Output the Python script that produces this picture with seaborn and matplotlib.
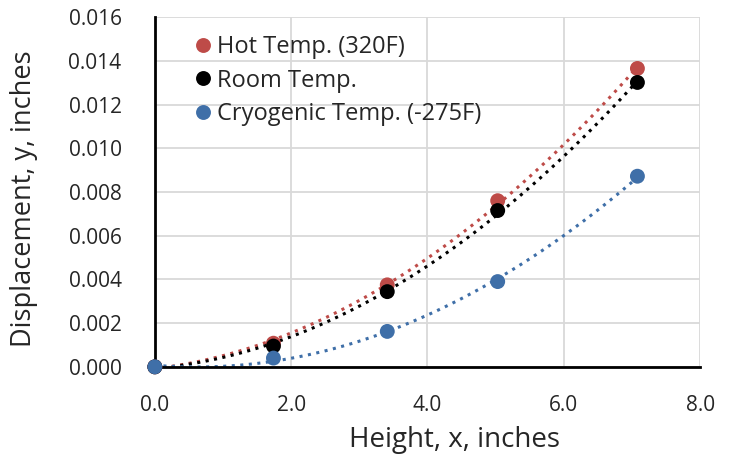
import numpy as np
import pandas as pd
import seaborn as sns
import matplotlib.pyplot as plt

# data
height = [0.0, 1.74, 3.41, 5.03, 7.08]
hot = [0.0, 0.00108, 0.00375, 0.00760, 0.01365]
room = [0.0, 0.00095, 0.00344, 0.00715, 0.01301]
cryo = [0.0, 0.00040, 0.00162, 0.00390, 0.00872]

series = ['Hot Temp. (320F)', 'Room Temp.', 'Cryogenic Temp. (-275F)']
colors = ['#BE4B48', '#000000', '#3F6FA8']

df = pd.DataFrame({
    'x': height * 3,
    'y': hot + room + cryo,
    'series': [s for s in series for _ in height],
})

sns.set_style('white')
plt.rcParams['font.family'] = ['Open Sans', 'DejaVu Sans']

fig = plt.figure(figsize=(7.48, 4.62), dpi=100)
ax = fig.add_axes([0.207, 0.206, 0.729, 0.757])

# dotted quadratic trendlines
for name, col in zip(series, colors):
    sub = df[df['series'] == name]
    sns.regplot(data=sub, x='x', y='y', order=2, ci=None, scatter=False,
                truncate=True, ax=ax,
                line_kws={'color': col, 'linestyle': (0, (1, 1.8)), 'linewidth': 2.2})

sns.scatterplot(data=df, x='x', y='y', hue='series', palette=colors,
                s=115, edgecolor='none', ax=ax, zorder=5, clip_on=False)

ax.set_xlim(0, 8)
ax.set_ylim(0, 0.016)
ax.set_xticks(np.arange(0, 8.1, 2))
ax.set_xticklabels([f'{v:.1f}' for v in np.arange(0, 8.1, 2)])
ax.set_yticks(np.arange(0, 0.0161, 0.002))
ax.set_yticklabels([f'{v:.3f}' for v in np.arange(0, 0.0161, 0.002)])
ax.tick_params(axis='y', labelsize=15, length=0, pad=24)
ax.tick_params(axis='x', labelsize=15, length=0, pad=20)
ax.grid(True, color='#D9D9D9', linewidth=1.3)
ax.set_axisbelow(True)

for side in ['top', 'right']:
    ax.spines[side].set_visible(False)
for side in ['left', 'bottom']:
    ax.spines[side].set_color('black')
    ax.spines[side].set_linewidth(2)

ax.set_xlabel('Height, x, inches', fontsize=20)
ax.set_ylabel('Displacement, y, inches', fontsize=19.5)
ax.xaxis.set_label_coords(0.549, -0.209)
ax.yaxis.set_label_coords(-0.24, 0.48)
ax.xaxis.label.set_va('center')
ax.yaxis.label.set_va('center')

ax.legend(loc='upper left', frameon=False, fontsize=17, handletextpad=0.0,
          markerscale=1.0, bbox_to_anchor=(0.045, 0.975), labelspacing=0.4,
          handlelength=1.2, borderaxespad=0)

fig.savefig('out.png', dpi=100)
